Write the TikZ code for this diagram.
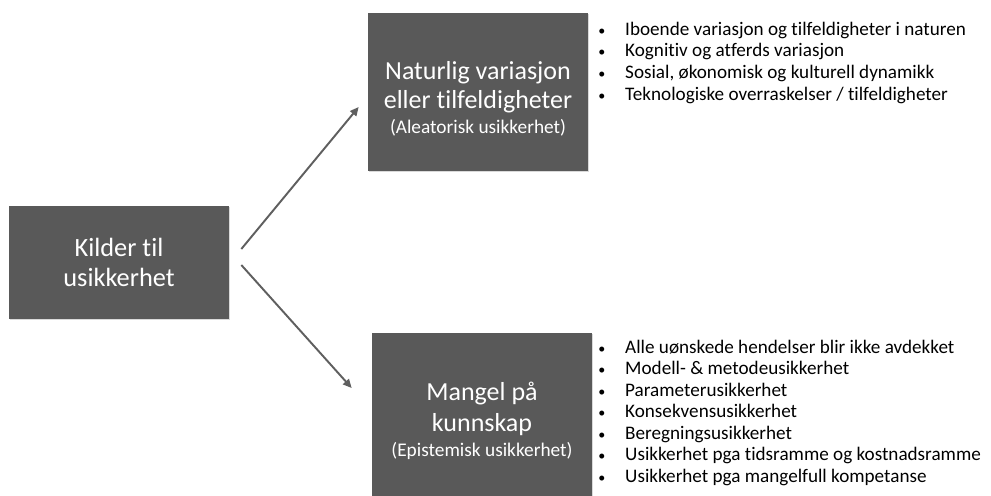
\documentclass[tikz,border=0pt]{standalone}
\usepackage{fontspec}
\setmainfont{Carlito}[Ligatures={NoCommon,NoContextual}]
\usetikzlibrary{arrows.meta,calc,shadows}
\definecolor{boxgray}{HTML}{595959}
\definecolor{linegray}{HTML}{5F5F5F}

\begin{document}
\begin{tikzpicture}[x=0.02cm, y=-0.02cm,
    box/.style={fill=boxgray, inner sep=0pt, minimum width=4.4cm,
      drop shadow={shadow xshift=0.7pt, shadow yshift=-0.7pt, opacity=0.3}},
    boxtext/.style={text=white, inner sep=0pt, align=center, font=\fontsize{14.8}{16.4}\selectfont},
    sub/.style={font=\fontsize{11}{13}\selectfont},
    item/.style={anchor=base west, inner sep=0pt, font=\fontsize{10.9}{12.3}\selectfont},
    conn/.style={draw=linegray, line width=1.1pt, -{Triangle[length=5pt,width=4.5pt]}}]

  \useasboundingbox (0,0) rectangle (991,495);

  % Boxes
  \node[box, minimum height=2.26cm] (kilder) at (119,262.5) {};
  \node[boxtext, font=\fontsize{15}{17}\selectfont] (kilder-t) at (kilder) {Kilder til\\usikkerhet};

  \node[box, minimum height=3.16cm] (natur) at (478,92) {};
  \node[boxtext] (natur-t) at ($(natur)+(0,7)$)
    {Naturlig variasjon\\eller tilfeldigheter\\[-2.2pt]{\fontsize{11}{13}\selectfont (Aleatorisk usikkerhet)}};

  \node[box, minimum height=3.28cm] (mangel) at (482,415) {};
  \node[boxtext] (mangel-t) at ($(mangel)+(0,6)$)
    {Mangel på\\[1.5pt]kunnskap\\[-2.2pt]{\fontsize{11}{13}\selectfont (Epistemisk usikkerhet)}};

  % Connectors
  \draw[conn] ($(kilder.east)+(12,-13.5)$) -- ($(natur.west)+(-9,15)$);
  \draw[conn] ($(kilder.east)+(12,2.5)$) -- ($(mangel.west)+(-20,-27)$);

  % Lists
  \foreach \txt [count=\i] in {Iboende variasjon og tilfeldigheter i naturen,
      Kognitiv og atferds variasjon,
      {Sosial, økonomisk og kulturell dynamikk},
      Teknologiske overraskelser / tilfeldigheter}
    \node[item] (a\i) at (598,{35+21.7*(\i-1)}) {\makebox[15.3pt][l]{\footnotesize •}\txt};

  \foreach \txt [count=\i] in {Alle uønskede hendelser blir ikke avdekket,
      Modell- \& metodeusikkerhet,
      Parameterusikkerhet,
      Konsekvensusikkerhet,
      Beregningsusikkerhet,
      Usikkerhet pga tidsramme og kostnadsramme,
      Usikkerhet pga mangelfull kompetanse}
    \node[item] (e\i) at (598,{353+21.5*(\i-1)}) {\makebox[15.3pt][l]{\footnotesize •}\txt};

\end{tikzpicture}
\end{document}
